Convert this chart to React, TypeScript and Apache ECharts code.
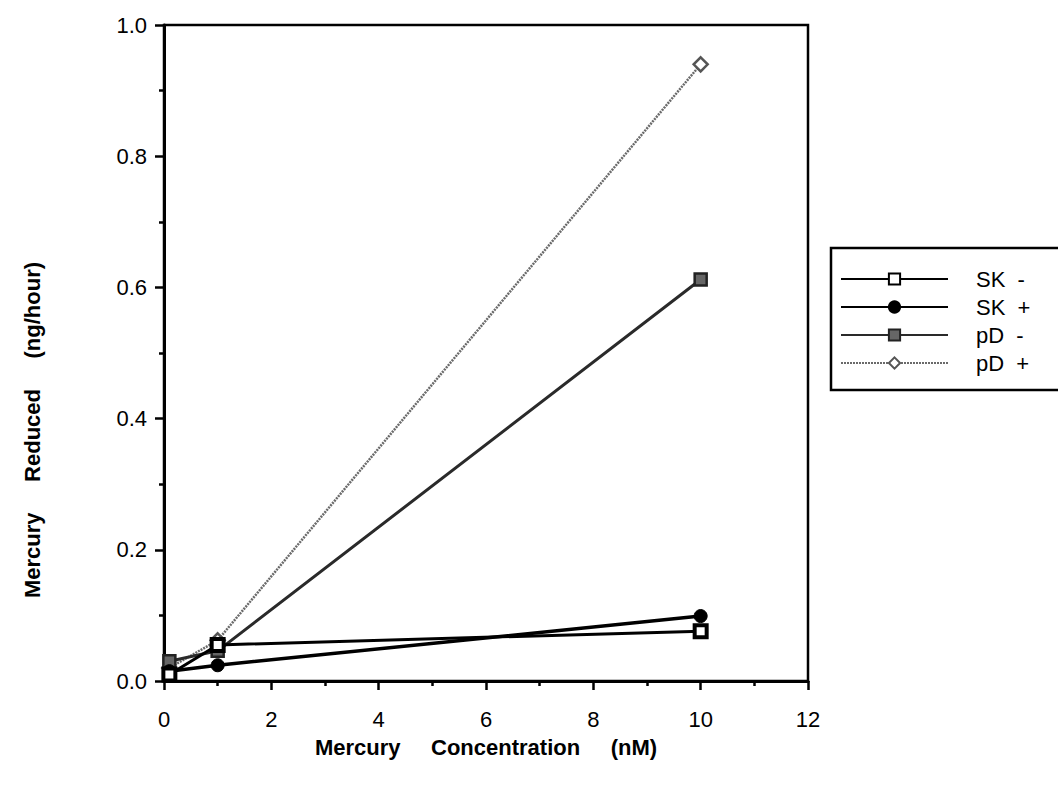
import React, { useEffect, useRef } from "react";
import * as echarts from "echarts";

const concentrations = [0.1, 1, 10];
const skMinus = [0.01, 0.055, 0.076];
const skPlus = [0.015, 0.024, 0.099];
const pdMinus = [0.03, 0.046, 0.612];
const pdPlus = [0.02, 0.062, 0.94];
const seriesNames = ["SK  -", "SK  +", "pD  -", "pD  +"];
const xTicks = [0, 2, 4, 6, 8, 10, 12];
const xTitle = ["Mercury", "Concentration", "(nM)"];
const yTitle = ["Mercury", "Reduced", "(ng/hour)"];

const FONT = "Liberation Sans, Arial, Helvetica, sans-serif";
const GAP = "     ";

export default function App() {
  const ref = useRef<HTMLDivElement>(null);
  useEffect(() => {
    if (!ref.current) return;
    const chart = echarts.init(ref.current, null, { renderer: "svg" });
    const pair = (ys: number[]) => concentrations.map((x, i) => [x, ys[i]]);
    chart.setOption({
      animation: false,
      backgroundColor: "#fff",
      grid: {
        left: 164,
        right: 250,
        top: 25,
        bottom: 118,
        show: true,
        borderColor: "#000",
        borderWidth: 2.5,
      },
      graphic: [
        {
          type: "text",
          x: 32,
          y: 430,
          rotation: Math.PI / 2,
          style: {
            text: yTitle.join(GAP),
            font: `bold 22px ${FONT}`,
            fill: "#000",
            align: "center",
            verticalAlign: "middle",
          },
        },
      ],
      legend: {
        orient: "vertical",
        left: 831,
        top: 248,
        data: seriesNames,
        itemWidth: 107,
        itemHeight: 14,
        itemGap: 6,
        padding: [20, 90, 16, 9],
        borderColor: "#000",
        borderWidth: 2.5,
        textStyle: {
          fontFamily: FONT,
          fontSize: 22,
          lineHeight: 22,
          color: "#000",
          padding: [0, 0, 0, 23],
        },
      },
      xAxis: {
        type: "value",
        min: 0,
        max: 12,
        interval: 2,
        name: xTitle.join(GAP),
        nameLocation: "middle",
        nameGap: 55,
        nameTextStyle: { fontFamily: FONT, fontSize: 22, fontWeight: "bold", color: "#000" },
        axisLine: { show: true, onZero: false, lineStyle: { color: "#000", width: 3 } },
        axisTick: { show: true, inside: false, length: 9, lineStyle: { color: "#000", width: 2.5 } },
        minorTick: { show: true, splitNumber: 2, length: 5, lineStyle: { color: "#000", width: 2.5 } },
        splitLine: { show: false },
        axisLabel: {
          fontFamily: FONT,
          fontSize: 22,
          color: "#000",
          margin: 27,
          formatter: (v: number) => (xTicks.includes(v) ? String(v) : ""),
        },
      },
      yAxis: {
        type: "value",
        min: 0,
        max: 1,
        interval: 0.2,
        axisLine: { show: true, lineStyle: { color: "#000", width: 3 } },
        axisTick: { show: true, inside: false, length: 9, lineStyle: { color: "#000", width: 2.5 } },
        minorTick: { show: true, splitNumber: 2, length: 5, lineStyle: { color: "#000", width: 2.5 } },
        splitLine: { show: false },
        axisLabel: {
          fontFamily: FONT,
          fontSize: 22,
          color: "#000",
          margin: 17,
          formatter: (v: number) => v.toFixed(1),
        },
      },
      series: [
        {
          name: seriesNames[0],
          type: "line",
          data: pair(skMinus),
          symbol: "rect",
          symbolSize: 12,
          lineStyle: { color: "#000", width: 3 },
          itemStyle: { color: "#fff", borderColor: "#000", borderWidth: 4 },
          z: 4,
        },
        {
          name: seriesNames[1],
          type: "line",
          data: pair(skPlus),
          symbol: "circle",
          symbolSize: 13,
          lineStyle: { color: "#000", width: 3.5 },
          itemStyle: { color: "#000", borderColor: "#000", borderWidth: 1 },
          z: 3,
        },
        {
          name: seriesNames[2],
          type: "line",
          data: pair(pdMinus),
          symbol: "rect",
          symbolSize: 12,
          lineStyle: { color: "#2a2a2a", width: 3 },
          itemStyle: { color: "#666", borderColor: "#222", borderWidth: 2.5 },
          z: 2,
        },
        {
          name: seriesNames[3],
          type: "line",
          data: pair(pdPlus),
          symbol: "diamond",
          symbolSize: 14,
          lineStyle: { color: "#6a6a6a", width: 2.5, type: [2, 1] },
          itemStyle: { color: "#fff", borderColor: "#555", borderWidth: 2.5 },
          z: 1,
        },
      ],
    });
    return () => chart.dispose();
  }, []);
  return <div ref={ref} style={{ width: 1058, height: 799, position: "absolute", left: 0, top: 0 }} />;
}
